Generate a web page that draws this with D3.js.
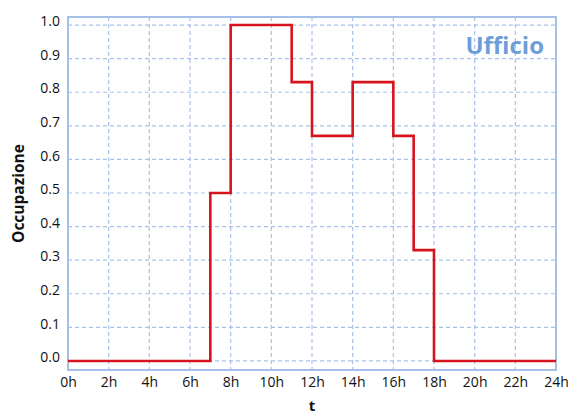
<!DOCTYPE html>
<html><head><meta charset="utf-8">
<script src="https://cdn.jsdelivr.net/npm/d3@7"></script>
<style>body{margin:0;background:#fff;} text{font-family:"Open Sans","Noto Sans",sans-serif;}</style>
</head><body>
<svg id="c" width="571" height="414"></svg>
<script>
const hours = [0, 7, 8, 11, 12, 14, 16, 17, 18, 24];
const occupancy = [0, 0.5, 1.0, 0.83, 0.67, 0.83, 0.67, 0.33, 0, 0];
const xTicks = [0,2,4,6,8,10,12,14,16,18,20,22,24];
const yTicks = [0,0.1,0.2,0.3,0.4,0.5,0.6,0.7,0.8,0.9,1.0];
const title = "Ufficio";

const svg = d3.select("#c");
const L = 68, R = 556, T = 17, B = 370;
const x = d3.scaleLinear().domain([0,24]).range([L,R]);
const y = d3.scaleLinear().domain([-0.027,1.024]).range([B,T]);
const grid = "#a9c2ea";

const g = svg.append("g");
g.selectAll(".vg").data(xTicks.slice(1,-1)).join("line")
  .attr("x1",d=>x(d)).attr("x2",d=>x(d)).attr("y1",T).attr("y2",B)
  .attr("stroke",grid).attr("stroke-width",1.2).attr("stroke-dasharray","4,3");
g.selectAll(".hg").data(yTicks).join("line")
  .attr("x1",L).attr("x2",R).attr("y1",d=>y(d)).attr("y2",d=>y(d))
  .attr("stroke",grid).attr("stroke-width",1.2).attr("stroke-dasharray","4,3");
g.append("rect").attr("x",L).attr("y",T).attr("width",R-L).attr("height",B-T)
  .attr("fill","none").attr("stroke","#a5bfe8").attr("stroke-width",2);

const xa = svg.append("g").attr("transform",`translate(0,${B})`)
  .call(d3.axisBottom(x).tickValues(xTicks).tickFormat(d=>d+"h").tickSize(0).tickPadding(7));
xa.select(".domain").remove();
xa.selectAll("text").attr("font-size",14).attr("fill","#111").attr("font-family","'Open Sans',sans-serif");
const ya = svg.append("g").attr("transform",`translate(${L},0)`)
  .call(d3.axisLeft(y).tickValues(yTicks).tickFormat(d3.format(".1f")).tickSize(0).tickPadding(8));
ya.select(".domain").remove();
ya.selectAll("text").attr("font-size",14).attr("fill","#111").attr("dy","0.05em").attr("font-family","'Open Sans',sans-serif");

const line = d3.line().x(d=>x(d[0])).y(d=>y(d[1])).curve(d3.curveStepAfter);
svg.append("path").datum(hours.map((h,i)=>[h,occupancy[i]]))
  .attr("d",line).attr("fill","none").attr("stroke","#d7141e").attr("stroke-width",2.6);

svg.append("text").attr("x",544).attr("y",54).attr("text-anchor","end")
  .attr("font-size",24).attr("font-weight","bold").attr("fill","#6e9dd8").text(title);
svg.append("text").attr("transform",`translate(24,${(T+B)/2}) rotate(-90)`).attr("text-anchor","middle")
  .attr("font-size",15.5).attr("font-weight","bold").attr("fill","#111").text("Occupazione");
svg.append("text").attr("x",x(12)).attr("y",411).attr("text-anchor","middle")
  .attr("font-size",15).attr("font-weight","bold").attr("fill","#111").text("t");
</script>
</body></html>
